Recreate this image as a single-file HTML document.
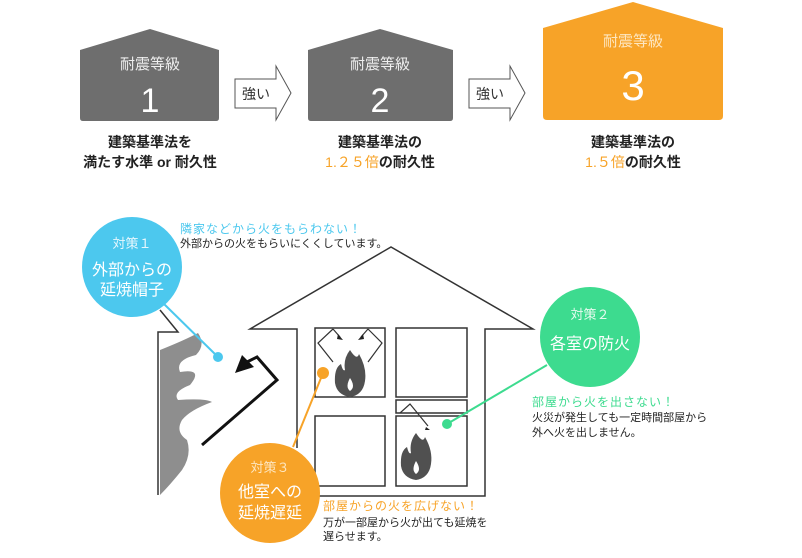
<!DOCTYPE html>
<html><head><meta charset="utf-8"><style>
html,body{margin:0;padding:0;background:#fff;}
svg{display:block;font-family:"Liberation Sans","Noto Sans CJK JP",sans-serif;}
</style></head><body>
<svg width="802" height="558" viewBox="0 0 802 558" xmlns="http://www.w3.org/2000/svg">
<!-- top houses -->
<path d="M80,50 L150,29 L219,50 L219,118 Q219,121 216,121 L83,121 Q80,121 80,118 Z" fill="#6e6e6e"/>
<text x="150" y="69" fill="#eee" font-size="15" text-anchor="middle">耐震等級</text>
<text x="150" y="112" fill="#fff" font-size="34" text-anchor="middle" font-weight="300">1</text>
<path d="M308,50 L380,29 L453,50 L453,118 Q453,121 450,121 L311,121 Q308,121 308,118 Z" fill="#6e6e6e"/>
<text x="380" y="69" fill="#eee" font-size="15" text-anchor="middle">耐震等級</text>
<text x="380" y="112" fill="#fff" font-size="34" text-anchor="middle">2</text>
<path d="M543,28 L633,2 L723,28 L723,116 Q723,120 719,120 L547,120 Q543,120 543,116 Z" fill="#f7a328"/>
<text x="633" y="46" fill="#fde6c0" font-size="15" text-anchor="middle">耐震等級</text>
<text x="633" y="100" fill="#fff" font-size="42" text-anchor="middle">3</text>
<!-- arrows -->
<path d="M235,79 L276,79 L276,66 L291,93 L276,120 L276,108 L235,108 Z" fill="#fff" stroke="#555" stroke-width="1"/>
<text x="256" y="99" font-size="14" text-anchor="middle" fill="#333">強い</text>
<path d="M469,79 L510,79 L510,66 L525,93 L510,120 L510,108 L469,108 Z" fill="#fff" stroke="#555" stroke-width="1"/>
<text x="490" y="99" font-size="14" text-anchor="middle" fill="#333">強い</text>
<!-- captions -->
<g font-size="14" font-weight="bold" fill="#222" text-anchor="middle">
<text x="150" y="147">建築基準法を</text>
<text x="150" y="167">満たす水準 or 耐久性</text>
<text x="380" y="147">建築基準法の</text>
<text x="380" y="167"><tspan fill="#f7a328" font-weight="normal">1.２５倍</tspan>の耐久性</text>
<text x="633" y="147">建築基準法の</text>
<text x="633" y="167"><tspan fill="#f7a328" font-weight="normal">1.５倍</tspan>の耐久性</text>
</g>
<!-- neighbor house -->
<path d="M158,495 L158,332 L178,332 L160,310" fill="none" stroke="#333" stroke-width="1.5"/>
<path d="M160,350 Q185,340 198,333 Q206,345 196,355 Q175,360 180,372 Q204,368 190,385 Q172,392 178,400 Q205,398 212,402 Q190,410 182,420 Q175,432 187,440 Q192,455 182,470 Q170,485 160,495 Z" fill="#8e8e8e"/>
<!-- main house -->
<path d="M297,448 L297,329 L250,329 L391,247 L533,329 L485,329 L485,496 L313,496" fill="none" stroke="#333" stroke-width="1.5"/>
<g fill="none" stroke="#333" stroke-width="1.5">
<rect x="315" y="328" width="70" height="69"/>
<rect x="396" y="328" width="71" height="69"/>
<rect x="396" y="400" width="71" height="13"/>
<rect x="315" y="416" width="70" height="70"/>
<rect x="396" y="416" width="71" height="70"/>
<path d="M333,329 L318,343 L333,362 M333,329 L340,337 M368,329 L382,343 L368,362 M368,329 L361,337 M400,413 L410,404 L428,426" stroke-width="1.2"/>
</g>
<g fill="#222"><path d="M338,334 l5,6 l-6,-1 z M363,334 l-5,6 l6,-1z M426,427 l4,3 l-5,0 z"/></g>
<!-- flames -->
<path d="M350,350 Q357,361 359,354 Q367,368 365,381 Q363,395 350,397 Q337,395 335,383 Q334,368 341,364 Q343,372 345,370 Q343,359 350,350 Z M350,378 Q345,387 350,391 Q356,387 350,378Z" fill="#505050" fill-rule="evenodd"/>
<path d="M416,433 Q423,444 425,437 Q433,451 431,464 Q429,478 416,480 Q403,478 401,466 Q400,451 407,447 Q409,455 411,453 Q409,442 416,433 Z M416,461 Q411,470 416,474 Q422,470 416,461Z" fill="#505050" fill-rule="evenodd"/>
<!-- black arrow -->
<path d="M202,445 L277,380 L257,357 L247,362" fill="none" stroke="#111" stroke-width="3"/>
<path d="M235,373 L242,355 L254,367 Z" fill="#111"/>
<!-- blue -->
<line x1="163" y1="303" x2="218" y2="357" stroke="#4cc8ee" stroke-width="2"/>
<circle cx="218" cy="357" r="5" fill="#4cc8ee"/>
<circle cx="132" cy="267" r="50" fill="#4cc8ee"/>
<text x="132" y="248" fill="#e6f7fd" font-size="13" text-anchor="middle">対策１</text>
<text x="132" y="275" fill="#fff" font-size="16" text-anchor="middle">外部からの</text>
<text x="132" y="295" fill="#fff" font-size="16" text-anchor="middle">延焼帽子</text>
<text x="180" y="233" fill="#4cc8ee" font-size="12" letter-spacing="1">隣家などから火をもらわない！</text>
<text x="180" y="247" fill="#222" font-size="11">外部からの火をもらいにくくしています。</text>
<!-- orange -->
<line x1="323" y1="373" x2="293" y2="447" stroke="#f7a328" stroke-width="2"/>
<circle cx="323" cy="373" r="6" fill="#f7a328"/>
<circle cx="270" cy="493" r="50" fill="#f7a328"/>
<text x="270" y="472" fill="#fde6c0" font-size="13" text-anchor="middle">対策３</text>
<text x="270" y="497" fill="#fff" font-size="16" text-anchor="middle">他室への</text>
<text x="270" y="518" fill="#fff" font-size="16" text-anchor="middle">延焼遅延</text>
<text x="323" y="510" fill="#f7a328" font-size="12" letter-spacing="1">部屋からの火を広げない！</text>
<text x="323" y="526" fill="#222" font-size="11">万が一部屋から火が出ても延焼を</text>
<text x="323" y="540" fill="#222" font-size="11">遅らせます。</text>
<!-- green -->
<line x1="547" y1="365" x2="447" y2="424" stroke="#3ddb8f" stroke-width="2"/>
<circle cx="447" cy="424" r="5" fill="#3ddb8f"/>
<circle cx="590" cy="337" r="50" fill="#3ddb8f"/>
<text x="590" y="319" fill="#e6faef" font-size="13" text-anchor="middle">対策２</text>
<text x="590" y="349" fill="#fff" font-size="16" text-anchor="middle">各室の防火</text>
<text x="532" y="406" fill="#3ddb8f" font-size="12" letter-spacing="1">部屋から火を出さない！</text>
<text x="532" y="421" fill="#222" font-size="11">火災が発生しても一定時間部屋から</text>
<text x="532" y="436" fill="#222" font-size="11">外へ火を出しません。</text>
</svg>
</body></html>
